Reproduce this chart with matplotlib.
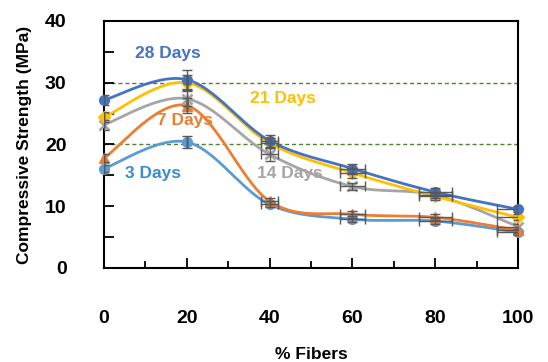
import numpy as np
import matplotlib
matplotlib.use("Agg")
import matplotlib.pyplot as plt
from matplotlib.ticker import MultipleLocator

plt.rcParams['font.family'] = ['Liberation Sans', 'DejaVu Sans']
plt.rcParams['font.weight'] = 'bold'

fibers = [0, 20, 40, 60, 80, 100]

days28 = [27.2, 30.5, 20.6, 16.1, 12.3, 9.5]
days21 = [24.4, 30.0, 20.2, 15.4, 11.6, 8.2]
days14 = [23.2, 27.4, 18.4, 13.2, 11.8, 6.7]
days7 = [17.8, 26.3, 10.8, 8.7, 8.2, 6.1]
days3 = [16.1, 20.4, 10.3, 7.9, 7.6, 5.8]

yerr28 = [0.8, 1.5, 1.0, 0.8, 0.6, 0.5]
yerr21 = [0.8, 1.2, 0.8, 0.8, 0.6, 0.5]
yerr14 = [0.8, 1.2, 1.0, 0.6, 0.5, 0.5]
yerr7 = [0.6, 1.2, 0.5, 0.6, 0.5, 0.5]
yerr3 = [0.6, 0.9, 0.5, 0.5, 0.5, 0.5]
xerr = [0, 0, 2, 3, 4, 5]

labels = ['28 Days', '21 Days', '14 Days', '7 Days', '3 Days']
label_pos = [(15.5, 34.8), (43.2, 27.4), (45, 15.3), (19.6, 23.9), (11.8, 15.3)]


def smooth(x, y, n=30):
    # excel style smoothed line (catmull-rom bezier)
    x = np.asarray(x, float)
    y = np.asarray(y, float)
    pts = np.column_stack([x, y])
    out = []
    for i in range(len(pts) - 1):
        p0 = pts[i - 1] if i > 0 else pts[i]
        p1 = pts[i]
        p2 = pts[i + 1]
        p3 = pts[i + 2] if i + 2 < len(pts) else pts[i + 1]
        c1 = p1 + (p2 - p0) / 6
        c2 = p2 - (p3 - p1) / 6
        t = np.linspace(0, 1, n)[:, None]
        seg = ((1 - t) ** 3) * p1 + 3 * ((1 - t) ** 2) * t * c1 + 3 * (1 - t) * t ** 2 * c2 + t ** 3 * p2
        out.append(seg if i == 0 else seg[1:])
    out = np.vstack(out)
    return out[:, 0], out[:, 1]


fig = plt.figure(figsize=(5.48, 3.62), dpi=100)
ax = fig.add_axes([0.1898, 0.2597, 0.7555, 0.6823])

ax.axhline(20, color='#548235', ls=(0, (3, 2)), lw=1, zorder=1)
ax.axhline(30, color='#548235', ls=(0, (3, 2)), lw=1, zorder=1)

series = [
    (days14, yerr14, '#A5A5A5', 'x', 7),
    (days3, yerr3, '#5B9BD5', 'o', 7),
    (days7, yerr7, '#ED7D31', '^', 7),
    (days21, yerr21, '#FFC000', 'D', 6),
    (days28, yerr28, '#4472C4', 'o', 7),
]
for vals, err, col, mk, ms in series:
    sx, sy = smooth(fibers, vals)
    ax.plot(sx, sy, color=col, lw=2, zorder=3, clip_on=False)
    ax.plot(fibers, vals, ls='none', marker=mk, color=col, ms=ms, mew=2 if mk == 'x' else 1,
            zorder=4, clip_on=False)
    ax.errorbar(fibers, vals, yerr=err, xerr=xerr, fmt='none', ecolor='#595959',
                elinewidth=1, capsize=3.5, capthick=1, zorder=5)

label_colors = ['#4472C4', '#FFC000', '#A5A5A5', '#ED7D31', '#3A8AD4']
for txt, (lx, ly), c in zip(labels, label_pos, label_colors):
    ax.text(lx, ly, txt, color=c, fontsize=12.5, fontweight='bold', ha='center', va='center', zorder=6)

ax.set_xlim(0, 100)
ax.set_ylim(0, 40)
ax.xaxis.set_major_locator(MultipleLocator(20))
ax.xaxis.set_minor_locator(MultipleLocator(10))
ax.yaxis.set_major_locator(MultipleLocator(10))
ax.yaxis.set_minor_locator(MultipleLocator(5))
ax.tick_params(which='major', direction='in', length=7, width=1.3, labelsize=14, pad=30)
ax.tick_params(which='minor', direction='in', length=5, width=1.3)
ax.tick_params(axis='y', which='major', pad=27)
ax.tick_params(axis='y', which='minor', length=7)
for s in ax.spines.values():
    s.set_linewidth(1.5)
for lab in ax.get_xticklabels() + ax.get_yticklabels():
    lab.set_fontweight('bold')

ax.set_xlabel('% Fibers', fontsize=12.5, fontweight='bold', labelpad=15)
ax.set_ylabel('Compressive Strength (MPa)', fontsize=12.5, fontweight='bold', labelpad=9)

fig.savefig('out.png', dpi=100)
